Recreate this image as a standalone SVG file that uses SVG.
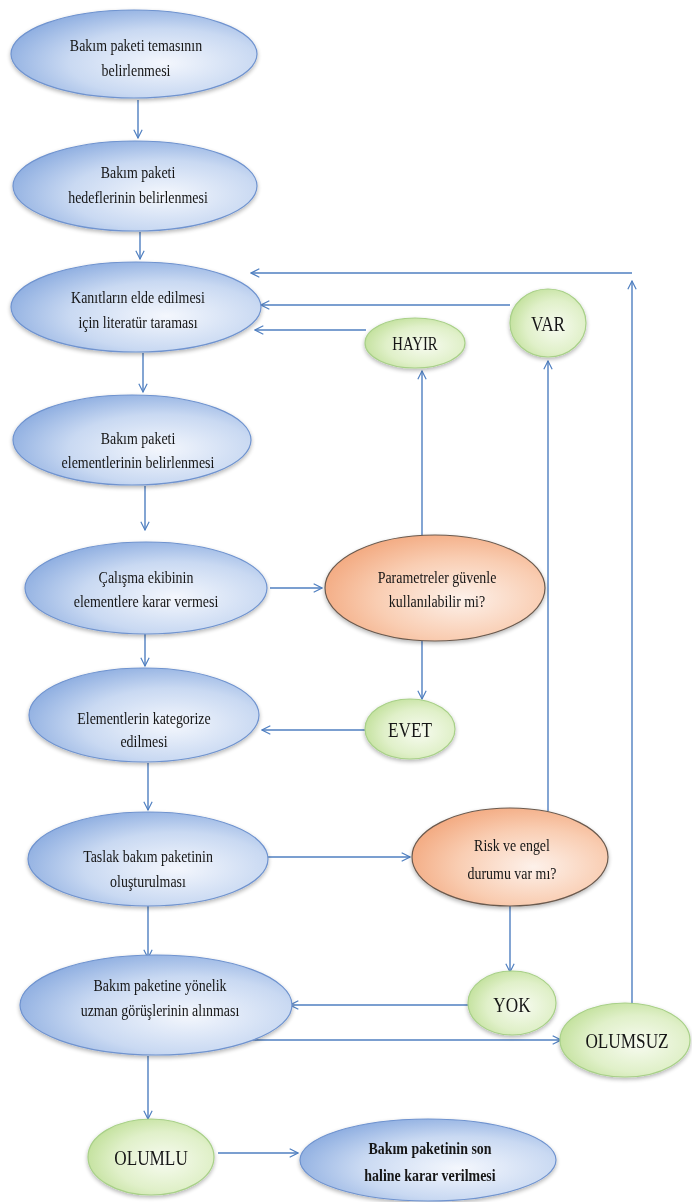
<svg xmlns="http://www.w3.org/2000/svg" width="692" height="1202" viewBox="0 0 692 1202">
<defs>
<style>
.t{font-family:"Liberation Serif","Times New Roman",serif;font-size:17px;fill:#151515;text-anchor:middle}
.b{font-weight:bold}
.big{font-size:21px}
.c{fill:none;stroke:#4f7fc0;stroke-width:1.4}
.blue{fill:url(#gb);stroke:#6f93cf;stroke-width:1.2}
.org{fill:url(#go);stroke:#6b5a4e;stroke-width:1.2}
.grn{fill:url(#gg);stroke:#a8d088;stroke-width:1.2}
</style>
<radialGradient id="gb" cx="0.62" cy="0.6" r="0.7">
<stop offset="0" stop-color="#f4f7fd"/>
<stop offset="0.55" stop-color="#c9d9f2"/>
<stop offset="1" stop-color="#86a8de"/>
</radialGradient>
<radialGradient id="go" cx="0.62" cy="0.6" r="0.7">
<stop offset="0" stop-color="#fdf1ea"/>
<stop offset="0.55" stop-color="#f9cdb2"/>
<stop offset="1" stop-color="#f2a57a"/>
</radialGradient>
<radialGradient id="gg" cx="0.6" cy="0.55" r="0.7">
<stop offset="0" stop-color="#f7fbf0"/>
<stop offset="0.55" stop-color="#e0f0c9"/>
<stop offset="1" stop-color="#b9dc8e"/>
</radialGradient>
<filter id="sh" x="-10%" y="-10%" width="120%" height="130%">
<feGaussianBlur in="SourceAlpha" stdDeviation="2"/>
<feOffset dx="0" dy="2" result="o"/>
<feComponentTransfer><feFuncA type="linear" slope="0.3"/></feComponentTransfer>
<feMerge><feMergeNode/><feMergeNode in="SourceGraphic"/></feMerge>
</filter>
<marker id="a" viewBox="0 0 12 12" refX="11" refY="6" markerWidth="10" markerHeight="10" markerUnits="userSpaceOnUse" orient="auto">
<path d="M1,1 L11,6 L1,11" fill="none" stroke="#4f7fc0" stroke-width="1.4"/>
</marker>
</defs>
<rect width="692" height="1202" fill="#ffffff"/>

<g id="connectors">
<line class="c" x1="138" y1="100" x2="138" y2="138" marker-end="url(#a)"/>
<line class="c" x1="140" y1="232" x2="140" y2="259" marker-end="url(#a)"/>
<line class="c" x1="143" y1="353" x2="143" y2="392" marker-end="url(#a)"/>
<line class="c" x1="145" y1="486" x2="145" y2="530" marker-end="url(#a)"/>
<line class="c" x1="145" y1="626" x2="145" y2="666" marker-end="url(#a)"/>
<line class="c" x1="148" y1="763" x2="148" y2="810" marker-end="url(#a)"/>
<line class="c" x1="148" y1="906" x2="148" y2="958" marker-end="url(#a)"/>
<line class="c" x1="148" y1="1056" x2="148" y2="1119" marker-end="url(#a)"/>
<line class="c" x1="270" y1="588" x2="322" y2="588" marker-end="url(#a)"/>
<line class="c" x1="422" y1="641" x2="422" y2="699" marker-end="url(#a)"/>
<line class="c" x1="365" y1="730" x2="262" y2="730" marker-end="url(#a)"/>
<line class="c" x1="422" y1="558" x2="422" y2="371" marker-end="url(#a)"/>
<line class="c" x1="366" y1="330" x2="255" y2="330" marker-end="url(#a)"/>
<line class="c" x1="510" y1="305" x2="261" y2="305" marker-end="url(#a)"/>
<line class="c" x1="632" y1="273" x2="251" y2="273" marker-end="url(#a)"/>
<line class="c" x1="632" y1="1004" x2="632" y2="281" marker-end="url(#a)"/>
<line class="c" x1="268" y1="857" x2="410" y2="857" marker-end="url(#a)"/>
<line class="c" x1="548" y1="811" x2="548" y2="361" marker-end="url(#a)"/>
<line class="c" x1="510" y1="906" x2="510" y2="972" marker-end="url(#a)"/>
<line class="c" x1="468" y1="1005" x2="290" y2="1005" marker-end="url(#a)"/>
<line class="c" x1="235" y1="1040" x2="561" y2="1040" marker-end="url(#a)"/>
<line class="c" x1="218" y1="1153" x2="298" y2="1153" marker-end="url(#a)"/>
</g>

<g id="n1" filter="url(#sh)">
<ellipse class="blue" cx="134" cy="54" rx="123" ry="44"/>
<text class="t" transform="translate(136,51) scale(0.82,1)">Bakım paketi temasının</text>
<text class="t" transform="translate(136,76) scale(0.82,1)">belirlenmesi</text>
</g>
<g id="n2" filter="url(#sh)">
<ellipse class="blue" cx="135" cy="186" rx="122" ry="45"/>
<text class="t" transform="translate(138,178) scale(0.82,1)">Bakım paketi</text>
<text class="t" transform="translate(138,203) scale(0.82,1)">hedeflerinin  belirlenmesi</text>
</g>
<g id="n3" filter="url(#sh)">
<ellipse class="blue" cx="136" cy="307" rx="125" ry="45"/>
<text class="t" transform="translate(138,303) scale(0.82,1)">Kanıtların  elde edilmesi</text>
<text class="t" transform="translate(138,328) scale(0.82,1)">için literatür taraması</text>
</g>
<g id="n4" filter="url(#sh)">
<ellipse class="blue" cx="132" cy="440" rx="119" ry="45"/>
<text class="t" transform="translate(138,444) scale(0.82,1)">Bakım paketi</text>
<text class="t" transform="translate(138,468) scale(0.82,1)">elementlerinin  belirlenmesi</text>
</g>
<g id="n5" filter="url(#sh)">
<ellipse class="blue" cx="146" cy="588" rx="121" ry="46"/>
<text class="t" transform="translate(146,583) scale(0.82,1)">Çalışma ekibinin</text>
<text class="t" transform="translate(146,607) scale(0.82,1)">elementlere  karar vermesi</text>
</g>
<g id="n6" filter="url(#sh)">
<ellipse class="blue" cx="144" cy="715" rx="115" ry="47"/>
<text class="t" transform="translate(144,724) scale(0.82,1)">Elementlerin  kategorize</text>
<text class="t" transform="translate(144,747) scale(0.82,1)">edilmesi</text>
</g>
<g id="n7" filter="url(#sh)">
<ellipse class="blue" cx="148" cy="859" rx="120" ry="47"/>
<text class="t" transform="translate(148,862) scale(0.82,1)">Taslak bakım paketinin</text>
<text class="t" transform="translate(148,887) scale(0.82,1)">oluşturulması</text>
</g>
<g id="n8" filter="url(#sh)">
<ellipse class="blue" cx="156" cy="1005" rx="136" ry="50"/>
<text class="t" transform="translate(160,991) scale(0.82,1)">Bakım paketine yönelik</text>
<text class="t" transform="translate(160,1016) scale(0.82,1)">uzman görüşlerinin  alınması</text>
</g>
<g id="n9" filter="url(#sh)">
<ellipse class="blue" cx="428" cy="1160" rx="128" ry="41"/>
<text class="t b" transform="translate(430,1154) scale(0.82,1)">Bakım paketinin son</text>
<text class="t b" transform="translate(430,1181) scale(0.82,1)">haline karar verilmesi</text>
</g>
<g id="param" filter="url(#sh)">
<ellipse class="org" cx="435" cy="588" rx="110" ry="53"/>
<text class="t" transform="translate(437,583) scale(0.82,1)">Parametreler  güvenle</text>
<text class="t" transform="translate(437,607) scale(0.82,1)">kullanılabilir  mi?</text>
</g>
<g id="risk" filter="url(#sh)">
<ellipse class="org" cx="510" cy="857" rx="98" ry="49"/>
<text class="t" transform="translate(512,851) scale(0.82,1)">Risk ve engel</text>
<text class="t" transform="translate(512,879) scale(0.82,1)">durumu  var mı?</text>
</g>
<g id="hayir" filter="url(#sh)">
<ellipse class="grn" cx="415" cy="343" rx="50" ry="25"/>
<text class="t" transform="translate(415,350) scale(0.82,1)" style="font-size:18px">HAYIR</text>
</g>
<g id="var" filter="url(#sh)">
<ellipse class="grn" cx="548" cy="323" rx="38" ry="34"/>
<text class="t big" transform="translate(548,331) scale(0.82,1)">VAR</text>
</g>
<g id="evet" filter="url(#sh)">
<ellipse class="grn" cx="410" cy="729" rx="45" ry="30"/>
<text class="t big" transform="translate(410,737) scale(0.82,1)">EVET</text>
</g>
<g id="yok" filter="url(#sh)">
<ellipse class="grn" cx="512" cy="1003" rx="44" ry="32"/>
<text class="t big" transform="translate(512,1012) scale(0.82,1)">YOK</text>
</g>
<g id="olumsuz" filter="url(#sh)">
<ellipse class="grn" cx="625" cy="1040" rx="65" ry="37"/>
<text class="t big" transform="translate(627,1048) scale(0.82,1)">OLUMSUZ</text>
</g>
<g id="olumlu" filter="url(#sh)">
<ellipse class="grn" cx="151" cy="1157" rx="63" ry="38"/>
<text class="t big" transform="translate(151,1165) scale(0.82,1)">OLUMLU</text>
</g>
</svg>
